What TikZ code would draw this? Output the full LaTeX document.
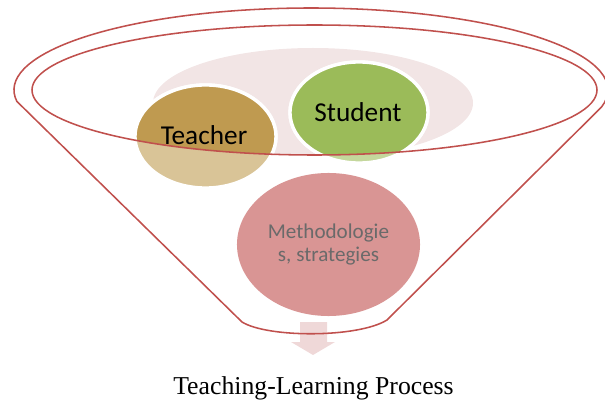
\documentclass[tikz,border=0pt]{standalone}
\usepackage{fontspec}
\setmainfont{Liberation Serif}
\newfontfamily\bodyfont{Carlito}
\usetikzlibrary{shapes.geometric}

\definecolor{rimred}{HTML}{C0504D}
\definecolor{backpink}{HTML}{F2E5E5}
\definecolor{arrowpink}{HTML}{EFD8D8}
\definecolor{teachdark}{HTML}{BF9A50}
\definecolor{teachlight}{HTML}{D9C497}
\definecolor{studdark}{HTML}{9BBB59}
\definecolor{studlight}{HTML}{C4D79C}
\definecolor{methfill}{HTML}{D99594}
\definecolor{methtext}{HTML}{6A6A6A}

\tikzset{
  rim/.style={draw=rimred, line width=1.1pt},
  blob/.style={ellipse, draw=white, line width=2.4pt, inner sep=0pt},
  blobtext/.style={font=\bodyfont\fontsize{19.4}{22}\selectfont, text=black}
}

\begin{document}
\begin{tikzpicture}[x=0.025cm,y=0.025cm]
  \useasboundingbox (0,0) rectangle (605,402);

  % back of the funnel
  \begin{scope}
    \clip (314.5,312) ellipse [x radius=282.5, y radius=65];
    \fill[backpink] (313,299) ellipse [x radius=160, y radius=55];
  \end{scope}

  % arrow out of the funnel
  \fill[arrowpink] (300,80) -- (327,80) -- (327,60) -- (335,60) -- (313,47) -- (291,60) -- (300,60) -- cycle;

  % the two circles, pale below the rim
  \node (teacher) at (205.5,265.5) [blob, minimum width=3.525cm, minimum height=2.575cm, fill=teachlight] {};
  \node (student) at (359,289.5) [blob, minimum width=3.45cm, minimum height=2.525cm, fill=studlight] {};
  \begin{scope}
    \clip (314.5,312) ellipse [x radius=282.5, y radius=65];
    \node (teachertop) at (teacher.center) [blob, minimum width=3.525cm, minimum height=2.575cm, fill=teachdark] {};
    \node (studenttop) at (student.center) [blob, minimum width=3.45cm, minimum height=2.525cm, fill=studdark] {};
  \end{scope}
  \node (meth) at (328.5,157.5) [blob, draw=none, minimum width=4.575cm, minimum height=3.575cm, fill=methfill] {};

  % funnel
  \draw[rim] (314.5,312) ellipse [x radius=282.5, y radius=65];
  \coordinate (rimL) at (242,80);
  \coordinate (rimR) at (387,82);
  \draw[rim] (311,312) ++(188:297 and 82) arc[start angle=188, end angle=-12, x radius=297, y radius=82]
    -- (rimR) .. controls (358,64) and (268,64) .. (rimL) -- cycle;

  % texts
  \node (teacherlbl) at (204,267) [blobtext] {Teacher};
  \node (studentlbl) at (358,290) [blobtext] {Student};
  \node (methlbl) at (meth.center) [align=center, text=methtext, font=\bodyfont\fontsize{15}{16.3}\selectfont] {Methodologie\\s, strategies};
  \node (title) at (313.5,8) [anchor=base, font=\fontsize{18.3}{21}\selectfont] {Teaching-Learning Process};
\end{tikzpicture}
\end{document}
